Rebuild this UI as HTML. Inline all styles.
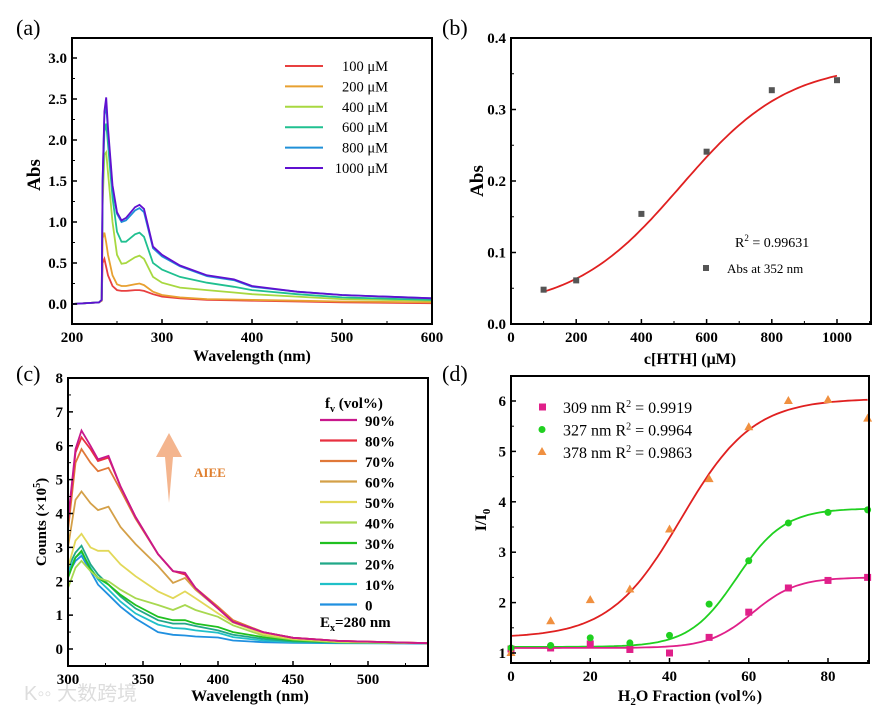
<!DOCTYPE html>
<html><head><meta charset="utf-8"><style>
body{margin:0;background:#fff;}
svg{display:block;font-family:"Liberation Serif",serif;}
.tk{font-weight:bold;font-size:15px;}
.lg{font-size:14.5px;}
</style></head><body>
<svg id="fig" width="890" height="709" viewBox="0 0 890 709" xmlns="http://www.w3.org/2000/svg">
<text x="24" y="700" font-size="20" fill="#ddd" font-family="'Liberation Sans','Noto Sans CJK SC',sans-serif">K◦◦ 大数跨境</text>
</svg>
<script>
// ---------- Panel (a) data ----------
const aWl = [200,230,233,234,236,238,240,245,250,255,260,270,275,280,290,300,320,350,380,400,450,500,600];
const aLabels = ["100 μM","200 μM","400 μM","600 μM","800 μM","1000 μM"];
const aColors = ["#e84040","#e8a030","#a8d840","#20c090","#2090d8","#6010d0"];
const a100 = [0,0.02,0.04,0.5,0.55,0.45,0.35,0.22,0.17,0.16,0.16,0.17,0.17,0.16,0.12,0.09,0.07,0.05,0.045,0.04,0.03,0.02,0.01];
const a200 = [0,0.02,0.04,0.8,0.87,0.75,0.6,0.35,0.24,0.22,0.22,0.24,0.25,0.23,0.15,0.11,0.08,0.06,0.055,0.05,0.04,0.03,0.02];
const a400 = [0,0.02,0.05,1.2,1.82,1.85,1.6,1.0,0.6,0.49,0.5,0.57,0.59,0.55,0.33,0.26,0.2,0.17,0.14,0.12,0.09,0.06,0.04];
const a600 = [0,0.02,0.05,1.4,2.1,2.2,1.95,1.3,0.88,0.76,0.76,0.85,0.87,0.82,0.5,0.42,0.33,0.26,0.21,0.17,0.12,0.08,0.05];
const a800 = [0,0.02,0.05,1.5,2.3,2.42,2.1,1.4,1.1,1.0,1.02,1.14,1.17,1.12,0.68,0.58,0.46,0.34,0.29,0.21,0.15,0.11,0.07];
const a1000 = [0,0.02,0.05,1.5,2.35,2.52,2.15,1.45,1.12,1.02,1.05,1.18,1.21,1.16,0.7,0.6,0.47,0.35,0.3,0.22,0.15,0.11,0.07];
const aSeries = [a100,a200,a400,a600,a800,a1000];
const aXTicks = [200,300,400,500,600];
const aYTicks = [0,0.5,1.0,1.5,2.0,2.5,3.0];
// ---------- Panel (b) data ----------
const bConc = [100,200,400,600,800,1000];
const bAbs = [0.048,0.061,0.154,0.241,0.327,0.341];
const bFit = [0.02,0.365,520,165]; // A1, A2, x0, dx (Boltzmann)
const bXTicks = [0,200,400,600,800,1000];
const bYTicks = [0,0.1,0.2,0.3,0.4];
// ---------- Panel (c) data ----------
const cWl = [300,305,309,315,320,327,335,345,360,370,378,385,400,410,430,450,480,540];
const cLabels = ["90%","80%","70%","60%","50%","40%","30%","20%","10%","0"];
const cColors = ["#c8188c","#e83040","#e07838","#d4a048","#e2d858","#a8d850","#20c020","#20a888","#20c0c8","#2090e0"];
const c90 = [3.8,5.9,6.45,6.0,5.6,5.7,4.8,3.9,2.8,2.3,2.25,1.8,1.2,0.8,0.5,0.33,0.24,0.17];
const c80 = [3.7,5.8,6.25,5.9,5.55,5.65,4.8,3.9,2.8,2.3,2.2,1.8,1.2,0.8,0.5,0.33,0.24,0.17];
const c70 = [3.5,5.5,5.9,5.5,5.25,5.35,4.7,3.85,2.8,2.3,2.25,1.8,1.25,0.85,0.5,0.33,0.24,0.17];
const c60 = [3.0,4.4,4.65,4.3,4.1,4.2,3.6,3.1,2.45,1.95,2.1,1.75,1.2,0.85,0.5,0.33,0.24,0.17];
const c50 = [2.4,3.2,3.4,3.0,2.9,2.9,2.5,2.15,1.7,1.5,1.7,1.5,1.05,0.78,0.45,0.3,0.22,0.17];
const c40 = [1.8,2.4,2.6,2.3,2.1,2.0,1.75,1.5,1.3,1.15,1.3,1.15,0.95,0.7,0.4,0.28,0.2,0.17];
const c30 = [2.1,2.7,2.9,2.35,2.1,1.9,1.6,1.3,0.95,0.85,0.85,0.75,0.65,0.5,0.35,0.25,0.2,0.17];
const c20 = [2.4,2.85,3.05,2.5,2.2,1.9,1.55,1.2,0.85,0.75,0.75,0.68,0.55,0.42,0.3,0.22,0.19,0.17];
const c10 = [2.3,2.7,2.85,2.4,2.05,1.75,1.4,1.05,0.72,0.62,0.6,0.55,0.48,0.35,0.25,0.2,0.18,0.17];
const c0 = [2.2,2.6,2.75,2.3,1.9,1.6,1.25,0.9,0.5,0.42,0.4,0.37,0.34,0.25,0.2,0.18,0.17,0.16];
const cSeries = [c90,c80,c70,c60,c50,c40,c30,c20,c10,c0];
const cXTicks = [300,350,400,450,500];
const cYTicks = [0,1,2,3,4,5,6,7,8];
// ---------- Panel (d) data ----------
const dFrac = [0,10,20,30,40,50,60,70,80,90];
const d309 = [1.08,1.1,1.18,1.07,1.0,1.31,1.81,2.29,2.44,2.5];
const d327 = [1.1,1.15,1.3,1.2,1.35,1.97,2.83,3.58,3.79,3.84];
const d378 = [1.0,1.63,2.05,2.26,3.45,4.45,5.48,6.0,6.02,5.65];
const dFit309 = [1.1,2.5,61,5.5];
const dFit327 = [1.12,3.87,57,6];
const dFit378 = [1.3,6.05,43,9];
const dXTicks = [0,20,40,60,80];
const dYTicks = [1,2,3,4,5,6];

const NS="http://www.w3.org/2000/svg";
const svg=document.getElementById('fig');
function mk(tag,attrs,parent,text){const e=document.createElementNS(NS,tag);for(const k in attrs)e.setAttribute(k,attrs[k]);if(text!==undefined)e.textContent=text;(parent||svg).appendChild(e);return e;}
function lin(d0,d1,r0,r1){return v=>r0+(v-d0)*(r1-r0)/(d1-d0);}
function boltz(p,x){return p[0]+(p[1]-p[0])/(1+Math.exp((p[2]-x)/p[3]));}

function axes(g,box,sx,sy,xt,yt,xfmt,yfmt,xminor,yminor){
  const fr=mk('rect',{x:box[0],y:box[1],width:box[2]-box[0],height:box[3]-box[1],fill:'none',stroke:'#000','stroke-width':2},g);
  
  xt.forEach(v=>{const x=sx(v);
    mk('line',{x1:x,x2:x,y1:box[3],y2:box[3]-5,stroke:'#000','stroke-width':1.5},g);
    const t=mk('text',{x:x,y:box[3]+18,'text-anchor':'middle',class:'tk'},g,xfmt(v));
    
    const m=sx(v+xminor); if(m<box[2]-1) mk('line',{x1:m,x2:m,y1:box[3],y2:box[3]-3,stroke:'#000','stroke-width':1},g);
  });
  yt.forEach(v=>{const y=sy(v);
    mk('line',{x1:box[0],x2:box[0]+5,y1:y,y2:y,stroke:'#000','stroke-width':1.5},g);
    const t=mk('text',{x:box[0]-5,y:y+5,'text-anchor':'end',class:'tk'},g,yfmt(v));
    
    const m=sy(v+yminor); if(m>box[1]+1) mk('line',{x1:box[0],x2:box[0]+3,y1:m,y2:m,stroke:'#000','stroke-width':1},g);
  });
}
function label(txt,x,y,size,name,extra){const t=mk('text',Object.assign({x:x,y:y,'font-size':size},extra||{}),svg,txt);return t;}
function path(pts){return pts.map((p,i)=>(i?'L':'M')+p[0].toFixed(1)+','+p[1].toFixed(1)).join('');}

// ---------- (a) ----------
{
const box=[72,38,432,324];
const sx=lin(200,600,72,432), sy=lin(0,3,304,58);
const g=mk('g',{});
aSeries.forEach((s,i)=>{
  const p=mk('path',{d:path(aWl.map((w,j)=>[sx(w),sy(s[j])])),fill:'none',stroke:aColors[i],'stroke-width':1.8},g);
  
  const y=66+i*20.4;
  const l=mk('line',{x1:285,x2:323,y1:y,y2:y,stroke:aColors[i],'stroke-width':2},g);
  
  const t=mk('text',{x:388,y:y+5,'text-anchor':'end',class:'lg'},g,aLabels[i]);
  
});
axes(g,box,sx,sy,aXTicks,aYTicks,v=>v,v=>v.toFixed(1),50,0.25);
label('(a)',16,35,22,'panel-label-a');
label('Abs',40,175,19,'y-axis-title',{'font-weight':'bold',transform:'rotate(-90 40 175)','text-anchor':'middle'});
label('Wavelength (nm)',252,361,16,'x-axis-title',{'font-weight':'bold','text-anchor':'middle'});
}
// ---------- (b) ----------
{
const box=[511,38,871,324];
const sx=lin(0,1000,511,837), sy=lin(0,0.4,324,38);
const g=mk('g',{});
const pts=[];for(let x=bConc[0];x<=bConc[bConc.length-1];x+=10)pts.push([sx(x),sy(boltz(bFit,x))]);
const fp=mk('path',{d:path(pts),fill:'none',stroke:'#e02020','stroke-width':1.8},g);

bConc.forEach((c,i)=>{const r=mk('rect',{x:sx(c)-3,y:sy(bAbs[i])-3,width:6,height:6,fill:'#555'},g);
  });
axes(g,box,sx,sy,bXTicks,bYTicks,v=>v,v=>v.toFixed(1),100,0.05);
label('(b)',442,35,22,'panel-label-b');
label('Abs',483,181,19,'y-axis-title',{'font-weight':'bold',transform:'rotate(-90 483 181)','text-anchor':'middle'});
label('c[HTH] (μM)',690,364,16,'x-axis-title',{'font-weight':'bold','text-anchor':'middle'});
const r2=label('R',735,247,14,'r-squared-label');r2.innerHTML='R<tspan font-size="9" dy="-6">2</tspan><tspan dy="6"> = 0.99631</tspan>';
const lm=mk('rect',{x:703,y:265,width:6,height:6,fill:'#555'},g);
label('Abs at 352 nm',727,273,13,'legend-entry');
}
// ---------- (c) ----------
{
const box=[68,378,428,666];
const sx=lin(300,350,68,143), sy=lin(0,8,649,378);
const g=mk('g',{});
cSeries.slice().reverse().forEach((s,k)=>{const i=cSeries.length-1-k;
  const p=mk('path',{d:path(cWl.map((w,j)=>[sx(w),sy(s[j])])),fill:'none',stroke:cColors[i],'stroke-width':1.8},g);
  });
cSeries.forEach((s,i)=>{const y=420+i*20.5;
  const l=mk('line',{x1:320,x2:357,y1:y,y2:y,stroke:cColors[i],'stroke-width':2.2},g);
  
  const t=mk('text',{x:365,y:y+6,'font-size':15,'font-weight':'bold'},g,cLabels[i]);
  });
axes(g,box,sx,sy,cXTicks,cYTicks,v=>v,v=>v,25,0.5);
const hd=label('f',325,408,15,'legend-title',{'font-weight':'bold'});hd.innerHTML='f<tspan font-size="10" dy="4">v</tspan><tspan dy="-4"> (vol%)</tspan>';
const ex=label('E',320,627,15,'excitation-label',{'font-weight':'bold'});ex.innerHTML='E<tspan font-size="10" dy="4">x</tspan><tspan dy="-4">=280 nm</tspan>';
const ar=mk('path',{d:'M169,433 L182,457 L173,457 L169,503 L165,457 L156,457 Z',fill:'#f4b58e'},g);

label('AIEE',194,477,13,'aiee-label',{'font-weight':'bold',fill:'#e08030'});
label('(c)',16,381,22,'panel-label-c');
const yt=label('Counts',46,522,15,'y-axis-title',{'font-weight':'bold',transform:'rotate(-90 46 522)','text-anchor':'middle'});
yt.innerHTML='Counts (×10<tspan font-size="10" dy="-6">5</tspan><tspan dy="6">)</tspan>';
label('Wavelength (nm)',250,701,16,'x-axis-title',{'font-weight':'bold','text-anchor':'middle'});
}
// ---------- (d) ----------
{
const box=[511,376,869,663];
const sx=lin(0,80,511,828), sy=lin(1,6,653,401);
const g=mk('g',{});
const fits=[dFit378,dFit327,dFit309], fcol=['#e02020','#20d020','#e0208a'];
fits.forEach((f,i)=>{const pts=[];for(let x=0;x<=90;x+=1)pts.push([sx(x),sy(boltz(f,x))]);
  const p=mk('path',{d:path(pts),fill:'none',stroke:fcol[i],'stroke-width':1.8},g);
  });
dFrac.forEach((x,i)=>{
  const a=mk('rect',{x:sx(x)-3.5,y:sy(d309[i])-3.5,width:7,height:7,fill:'#e0208a'},g);
  const b=mk('circle',{cx:sx(x),cy:sy(d327[i]),r:3.5,fill:'#20d020'},g);
  const X=sx(x),Y=sy(d378[i]);
  const c=mk('path',{d:`M${X},${Y-5}L${X+4.5},${Y+3}L${X-4.5},${Y+3}Z`,fill:'#f09040'},g);
});
axes(g,box,sx,sy,dXTicks,dYTicks,v=>v,v=>v,10,0.5);
const lgT=['309 nm ','327 nm ','378 nm '], lgR=['0.9919','0.9964','0.9863'];
[0,1,2].forEach(i=>{const y=407+i*22.5;
  let m;
  if(i==0)m=mk('rect',{x:539,y:y-3.5,width:7,height:7,fill:'#e0208a'},g);
  else if(i==1)m=mk('circle',{cx:542,cy:y,r:3.5,fill:'#20d020'},g);
  else m=mk('path',{d:`M542,${y-5}L546.5,${y+3}L537.5,${y+3}Z`,fill:'#f09040'},g);
  
  const t=label('',563,y+6,16,'legend-entry');
  t.innerHTML=lgT[i]+'R<tspan font-size="10" dy="-6">2</tspan><tspan dy="6"> = '+lgR[i]+'</tspan>';});
label('(d)',442,381,22,'panel-label-d');
const yt=label('',486,520,16,'y-axis-title',{'font-weight':'bold',transform:'rotate(-90 486 520)','text-anchor':'middle'});
yt.innerHTML='I/I<tspan font-size="11" dy="4">0</tspan>';
const xt=label('',690,701,16,'x-axis-title',{'font-weight':'bold','text-anchor':'middle'});
xt.innerHTML='H<tspan font-size="11" dy="4">2</tspan><tspan dy="-4">O Fraction (vol%)</tspan>';
}
</script>
</body></html>
